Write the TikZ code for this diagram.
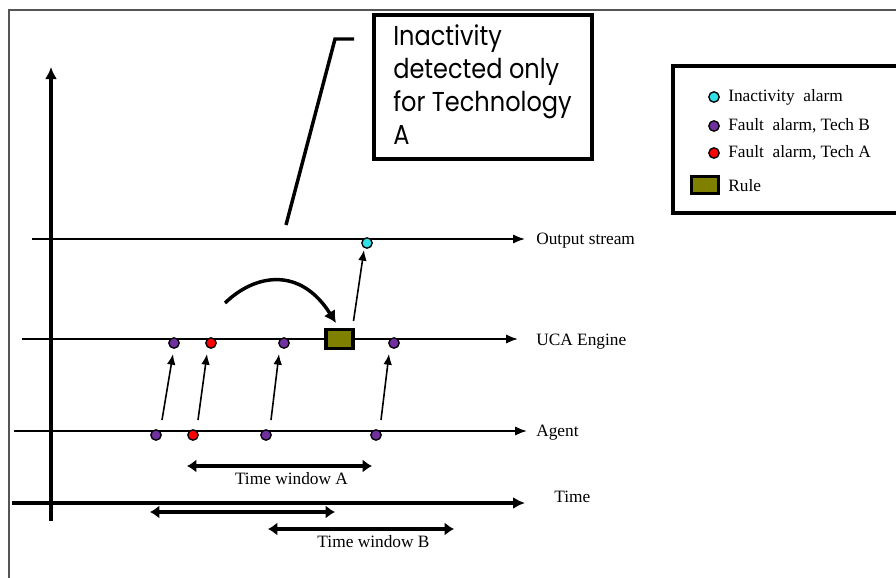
\documentclass[tikz,border=0pt]{standalone}
\usepackage{fontspec}
\setmainfont{Liberation Serif}
\newfontfamily\callfont[FakeStretch=0.88]{Poppins}
\usetikzlibrary{arrows.meta}
\definecolor{purpdot}{HTML}{7030A0}
\definecolor{reddot}{HTML}{FF0000}
\definecolor{cyandot}{HTML}{33E0E8}
\definecolor{ruleol}{HTML}{808000}
\definecolor{framegray}{HTML}{555555}
\tikzset{
  thinarrow/.style={line width=1.2pt, -{Latex[length=8pt,width=6.5pt]}},
  streamline/.style={line width=1.4pt, -{Latex[length=9pt,width=7pt]}},
  axisline/.style={line width=3.4pt, -{Latex[length=9pt,width=9pt]}},
  winarrow/.style={line width=2.6pt, {Latex[length=7pt,width=10pt]}-{Latex[length=7pt,width=10pt]}},
  dotnode/.style={circle, draw=black, line width=1pt, minimum size=7.8pt, inner sep=0pt},
  techb/.style={dotnode, fill=purpdot},
  techa/.style={dotnode, fill=reddot},
  inact/.style={dotnode, fill=cyandot},
  rulebox/.style={draw=black, line width=2.6pt, fill=ruleol, inner sep=0pt},
  lbl/.style={font=\fontsize{13}{15}\selectfont, inner sep=0pt, anchor=west},
  leglbl/.style={font=\fontsize{13}{15}\selectfont, inner sep=0pt, anchor=west},
  thickbox/.style={draw=black, line width=3pt},
}
\begin{document}
\begin{tikzpicture}[x=0.75pt,y=-0.75pt]
\useasboundingbox (0,0) rectangle (896,578);
\fill[white] (0,0) rectangle (896,578);
% outer frame
\draw[framegray, line width=0.9pt] (9,578) -- (9,10) -- (896,10);

% axes
\coordinate (vbot) at (51,521);
\coordinate (vtop) at (51,67);
\draw[axisline] (vbot) -- (vtop);
\coordinate (tstart) at (12,503);
\coordinate (tend) at (525,503);
\draw[axisline] (tstart) -- (tend);
\node[lbl] (tlbl) at (554,497) {Time};

% stream lines
\coordinate (os) at (32,239);
\coordinate (oe) at (525,239);
\draw[streamline] (os) -- (oe);
\node[lbl] (olbl) at (536,241) {Output stream};
\coordinate (us) at (22,339);
\coordinate (ue) at (518,339);
\draw[streamline] (us) -- (ue);
\node[lbl] (ulbl) at (536,342) {UCA Engine};
\coordinate (as) at (14,431);
\coordinate (ae) at (527,431);
\draw[streamline] (as) -- (ae);
\node[lbl] (albl) at (536,433) {Agent};

% agent dots
\node[techb] (a1) at (156,435) {};
\node[techa] (a2) at (193,435) {};
\node[techb] (a3) at (266,435) {};
\node[techb] (a4) at (376,435) {};
% UCA dots
\node[techb] (u1) at (174,343) {};
\node[techa] (u2) at (211,343) {};
\node[techb] (u3) at (284,343) {};
\node[techb] (u4) at (394,343) {};
% rule box
\node[rulebox, minimum width=20pt, minimum height=14pt] (rule) at (339.5,339) {};
% output dot
\node[inact] (o1) at (367,243) {};

% agent to UCA arrows
\draw[thinarrow] ([shift={(6,-15)}]a1.center) -- ([shift={(-1,11)}]u1.center);
\draw[thinarrow] ([shift={(5,-15)}]a2.center) -- ([shift={(-4,11)}]u2.center);
\draw[thinarrow] ([shift={(5,-15)}]a3.center) -- ([shift={(-5,11)}]u3.center);
\draw[thinarrow] ([shift={(5,-15)}]a4.center) -- ([shift={(-5,11)}]u4.center);
% rule to output
\draw[thinarrow] ([shift={(14,-18)}]rule.center) -- ([shift={(-3,7)}]o1.center);

% curved arrow
\coordinate (cs) at (225,303);
\coordinate (ce) at (336,323);
\draw[line width=2.6pt, -{Latex[length=9pt,width=10pt]}] (cs) .. controls (255,274) and (300,266) .. (ce);

% callout
\node[thickbox, minimum width=163.5pt, minimum height=108pt, anchor=north west, inner sep=0pt] (call) at (372,13) {};
\node[anchor=base west, inner sep=0pt, align=left, font=\callfont\fontsize{20.5}{24.75}\selectfont] (calltxt) at (393,144) {Inactivity\\detected only\\for Technology\\A};
\coordinate (cl1) at (286,225);
\coordinate (cl2) at (335,39);
\coordinate (cl3) at (354,39);
\draw[line width=2.6pt] (cl1) -- (cl2) -- (cl3);

% legend
\draw[line width=3pt] (900,66) -- (673,66) -- (673,213) -- (900,213);
\node[inact] (l1) at (714,97) {};
\node[leglbl] (l1t) at (728,97) {Inactivity\ \ alarm};
\node[techb] (l2) at (714,126) {};
\node[leglbl] (l2t) at (728,126) {Fault\ \ alarm, Tech B};
\node[techa] (l3) at (714,153) {};
\node[leglbl] (l3t) at (728,153) {Fault\ \ alarm, Tech A};
\node[rulebox, minimum width=20pt, minimum height=13pt] (l4) at (705,185) {};
\node[leglbl] (l4t) at (728,186) {Rule};

% time windows
\coordinate (wa1) at (187,466);
\coordinate (wa2) at (372,466);
\draw[winarrow] (wa1) -- (wa2);
\node[font=\fontsize{13}{15}\selectfont, inner sep=0pt] (walbl) at (291.5,479) {Time window A};
\coordinate (wm1) at (150,512);
\coordinate (wm2) at (335,512);
\draw[winarrow] (wm1) -- (wm2);
\coordinate (wb1) at (268,529);
\coordinate (wb2) at (454,529);
\draw[winarrow] (wb1) -- (wb2);
\node[font=\fontsize{13}{15}\selectfont, inner sep=0pt] (wblbl) at (373.5,542) {Time window B};
\end{tikzpicture}
\end{document}
